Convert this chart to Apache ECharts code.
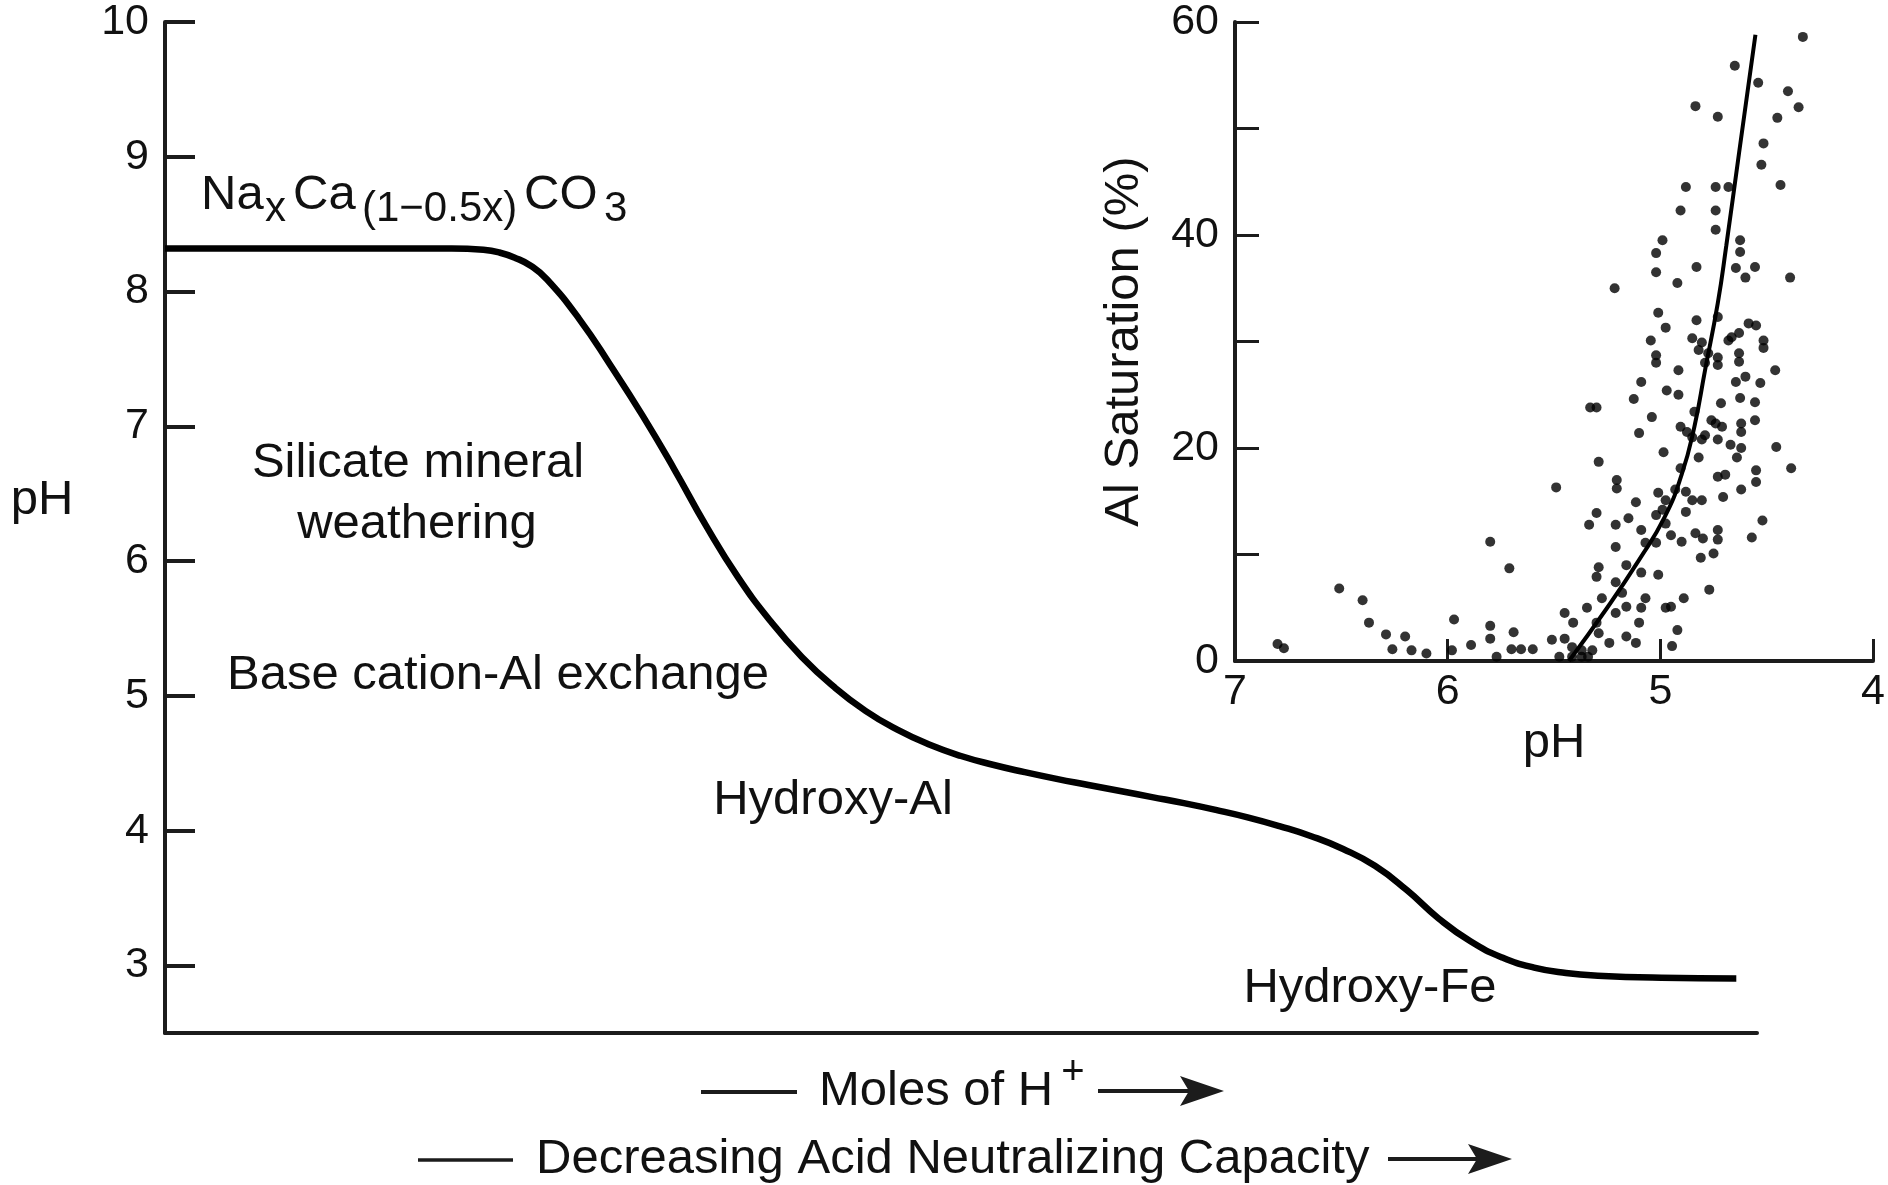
<!DOCTYPE html>
<html>
<head>
<meta charset="utf-8">
<script src="https://cdn.jsdelivr.net/npm/echarts@6/dist/echarts.min.js"></script>
<style>
html,body{margin:0;padding:0;background:#fff;}
#chart{width:1888px;height:1185px;}
</style>
</head>
<body>
<div id="chart"></div>
<script>
// ---- Main titration curve (x = relative moles of H+, 0-100) ----
const curveX  = [0, 10, 18, 20, 21, 22, 23, 24, 26, 28, 30, 32, 34, 36, 38, 40, 42, 44, 46, 48, 50, 52, 54, 56, 58, 60, 62, 64, 66, 68, 70, 72, 74, 76, 78, 80, 82, 84, 86, 88, 90, 94, 98.7];
const curvePH = [8.32, 8.32, 8.32, 8.31, 8.29, 8.25, 8.19, 8.09, 7.80, 7.45, 7.08, 6.68, 6.26, 5.88, 5.56, 5.29, 5.07, 4.89, 4.75, 4.64, 4.555, 4.49, 4.435, 4.385, 4.34, 4.295, 4.25, 4.205, 4.155, 4.10, 4.035, 3.96, 3.865, 3.74, 3.56, 3.35, 3.18, 3.06, 2.985, 2.945, 2.925, 2.91, 2.905];
const mainYTicks = [3, 4, 5, 6, 7, 8, 9, 10];

// ---- Inset scatter: pH vs Al saturation (%) ----
const insetPH = [6.80,6.77,6.51,6.40,6.37,6.29,6.26,6.20,6.17,6.10,5.98,5.97,5.89,5.80,5.71,5.80,5.80,5.77,5.69,5.70,5.655,5.60,5.51,5.45,5.45,5.41,5.415,
 5.30,5.335,5.21,5.15,5.09,5.02,4.975,4.88,4.95,4.90,4.835,4.80,4.73,4.73,5.07,5.02,4.52,4.57,4.81,4.75,5.21,5.29,5.30,5.16,5.09,5.01,5.21,5.275,5.18,5.07,5.09,4.975,4.95,4.89,4.77,
 5.345,5.30,5.21,5.16,5.10,5.16,5.115,5.24,5.29,5.37,5.32,5.37,5.415,5.475,5.34,4.92,4.945,
 5.02,4.915,5.09,4.97,4.915,5.125,5.30,5.33,5.04,5.10,4.985,5.29,5.205,5.205,5.49,5.115,5.01,4.975,4.99,4.93,4.88,4.85,4.805,4.905,4.82,4.73,4.705,4.62,4.55,4.55,
 4.46,4.645,4.60,4.53,4.715,4.625,4.555,4.74,4.71,4.62,4.555,4.62,4.73,4.67,4.62,4.64,4.79,4.73,4.63,4.455,4.385,4.905,4.85,4.805,4.84,4.76,4.79,4.875,4.695,
 4.905,4.74,4.74,4.99,4.625,4.625,5.02,4.83,4.645,4.555,4.60,5.02,4.92,5.215,4.39,5.01,4.975,4.83,5.045,5.02,4.73,4.585,4.55,4.63,4.515,4.515,4.63,4.85,4.805,4.775,4.73,4.68,4.82,4.665,
 4.33,4.65,4.54,4.40,4.35,4.835,4.73,4.45,4.515,4.525,4.88,4.74,4.68,4.435];
const insetAl = [1.6,1.2,6.8,5.7,3.6,2.5,1.1,2.3,1.0,0.7,1.0,3.9,1.5,11.2,8.7,3.3,2.1,0.4,2.7,1.1,1.1,1.1,2.0,4.5,2.1,3.6,1.3,
 13.9,12.8,12.8,13.4,12.3,13.7,12.9,14.0,11.8,11.2,12.0,11.5,12.3,11.4,11.1,11.1,13.2,11.6,9.7,10.1,10.7,8.8,7.9,9.0,8.3,8.1,7.4,5.9,6.4,5.9,5.0,5.0,5.1,5.9,6.7,
 5.0,3.6,4.5,5.1,3.6,2.3,1.7,1.7,2.6,1.0,1.0,0.4,0.4,0.4,0.4,2.9,1.4,
 28.0,27.3,26.2,25.4,25.0,24.6,23.8,23.8,22.9,21.4,19.6,18.7,17.0,16.2,16.3,14.9,15.8,15.1,14.2,16.1,15.9,15.1,15.1,18.1,19.1,17.3,15.4,16.1,17.9,16.8,
 27.3,26.2,26.7,26.1,24.2,24.7,24.3,22.3,22.0,22.3,22.6,21.5,20.8,20.3,20.0,19.1,28.0,27.8,28.1,20.1,18.1,22.0,21.0,20.8,23.4,22.6,21.2,21.5,17.5,
 42.3,42.3,40.5,39.5,39.5,38.4,38.3,37.0,36.9,37.0,36.0,36.5,35.5,35.0,36.0,32.7,31.3,32.0,30.1,28.7,32.3,31.7,31.5,30.8,30.1,29.4,28.9,30.3,29.9,28.9,28.5,30.1,29.2,30.4,
 58.6,55.9,54.3,53.5,52.0,52.1,51.1,51.0,48.6,46.6,44.5,44.5,44.5,44.7];

// fitted curve through the scatter
const fitPH = [5.43, 5.25, 5.10, 4.98, 4.90, 4.84, 4.79, 4.73, 4.69, 4.63, 4.553];
const fitAl = [0, 5, 9.5, 13.5, 17.5, 22, 27.3, 33.6, 39, 47.7, 58.8];
const insetYLabels = [0, 20, 40, 60];

const FONT = "'Liberation Sans', Arial, Helvetica, sans-serif";
const INK = '#111';
const LINE = '#1c1c1c';

const zip = (a, b) => a.map((v, i) => [v, b[i]]);

function txt(text, x, y, size, align) {
  return { type: 'text', x: x, y: y, silent: true,
    style: { text: text, fontSize: size, fontFamily: FONT, fill: INK, align: align || 'center', verticalAlign: 'middle' } };
}
function seg(x1, y1, x2, y2, w) {
  return { type: 'line', silent: true, shape: { x1: x1, y1: y1, x2: x2, y2: y2 }, style: { stroke: LINE, lineWidth: w || 4 } };
}
function head(tx, y) {
  return { type: 'polygon', silent: true, shape: { points: [[tx, y], [tx - 44, y - 15], [tx - 35, y], [tx - 44, y + 15]] }, style: { fill: LINE } };
}

const chart = echarts.init(document.getElementById('chart'), null, { renderer: 'canvas' });
chart.setOption({
  animation: false,
  backgroundColor: '#fff',
  grid: [
    { left: 165, top: 22, right: 131, bottom: 152 },
    { left: 1235, top: 22, right: 14, bottom: 524 }
  ],
  xAxis: [
    { gridIndex: 0, type: 'value', min: 0, max: 100,
      axisLine: { show: true, lineStyle: { color: LINE, width: 4 } },
      axisTick: { show: false }, axisLabel: { show: false }, splitLine: { show: false } },
    { gridIndex: 1, type: 'value', min: 4, max: 7, interval: 1, inverse: true,
      name: 'pH', nameLocation: 'middle', nameGap: 52,
      nameTextStyle: { fontSize: 49, fontFamily: FONT, color: INK },
      axisLine: { show: true, onZero: false, lineStyle: { color: LINE, width: 4 } },
      axisTick: { show: true, inside: true, length: 22, lineStyle: { color: LINE, width: 3 } },
      axisLabel: { fontSize: 43, fontFamily: FONT, color: INK, margin: 10 },
      splitLine: { show: false } }
  ],
  yAxis: [
    { gridIndex: 0, type: 'value', min: 2.5, max: 10,
      axisLine: { show: true, lineStyle: { color: LINE, width: 4 } },
      axisTick: { show: true, inside: true, length: 30, customValues: mainYTicks, lineStyle: { color: LINE, width: 4 } },
      axisLabel: { customValues: mainYTicks, fontSize: 43, fontFamily: FONT, color: INK, margin: 16 },
      splitLine: { show: false } },
    { gridIndex: 1, type: 'value', min: 0, max: 60, interval: 10,
      name: 'Al Saturation (%)', nameLocation: 'middle', nameGap: 86, nameRotate: 90,
      nameTextStyle: { fontSize: 49, fontFamily: FONT, color: INK },
      axisLine: { show: true, onZero: false, lineStyle: { color: LINE, width: 4 } },
      axisTick: { show: true, inside: true, length: 24, lineStyle: { color: LINE, width: 3 } },
      axisLabel: { customValues: insetYLabels, fontSize: 43, fontFamily: FONT, color: INK, margin: 16 },
      splitLine: { show: false } }
  ],
  series: [
    { type: 'line', xAxisIndex: 0, yAxisIndex: 0, data: zip(curveX, curvePH), smooth: 0.5,
      symbol: 'none', lineStyle: { color: '#000', width: 6.5 }, silent: true },
    { type: 'scatter', xAxisIndex: 1, yAxisIndex: 1, data: zip(insetPH, insetAl),
      symbol: 'circle', symbolSize: 10, itemStyle: { color: '#000' }, silent: true },
    { type: 'line', xAxisIndex: 1, yAxisIndex: 1, data: zip(fitPH, fitAl), smooth: 0.5,
      symbol: 'none', lineStyle: { color: '#000', width: 4 }, silent: true }
  ],
  graphic: [
    txt('pH', 42, 500, 49),
    // Na_x Ca_(1-0.5x) CO_3
    txt('Na', 201, 195, 49, 'left'),
    txt('x', 265, 209.5, 42, 'left'),
    txt('Ca', 293, 195, 49, 'left'),
    txt('(1\u22120.5x)', 362, 209.5, 42, 'left'),
    txt('CO', 524, 195, 49, 'left'),
    txt('3', 604, 209.5, 42, 'left'),
    txt('Silicate mineral', 418, 463, 49),
    txt('weathering', 417, 524, 49),
    txt('Base cation-Al exchange', 498, 675, 49),
    txt('Hydroxy-Al', 833, 800, 49),
    txt('Hydroxy-Fe', 1370, 988, 49),
    // x-axis descriptions
    seg(701, 1092, 797, 1092, 4),
    txt('Moles of H', 819, 1091, 49, 'left'),
    txt('+', 1073, 1073, 40),
    seg(1098, 1091, 1195, 1091, 4),
    head(1224, 1091),
    seg(418, 1160, 513, 1160, 3.5),
    txt('Decreasing Acid Neutralizing Capacity', 536, 1159, 49, 'left'),
    seg(1388, 1159, 1484, 1159, 4),
    head(1512, 1159)
  ]
});
</script>
</body>
</html>
